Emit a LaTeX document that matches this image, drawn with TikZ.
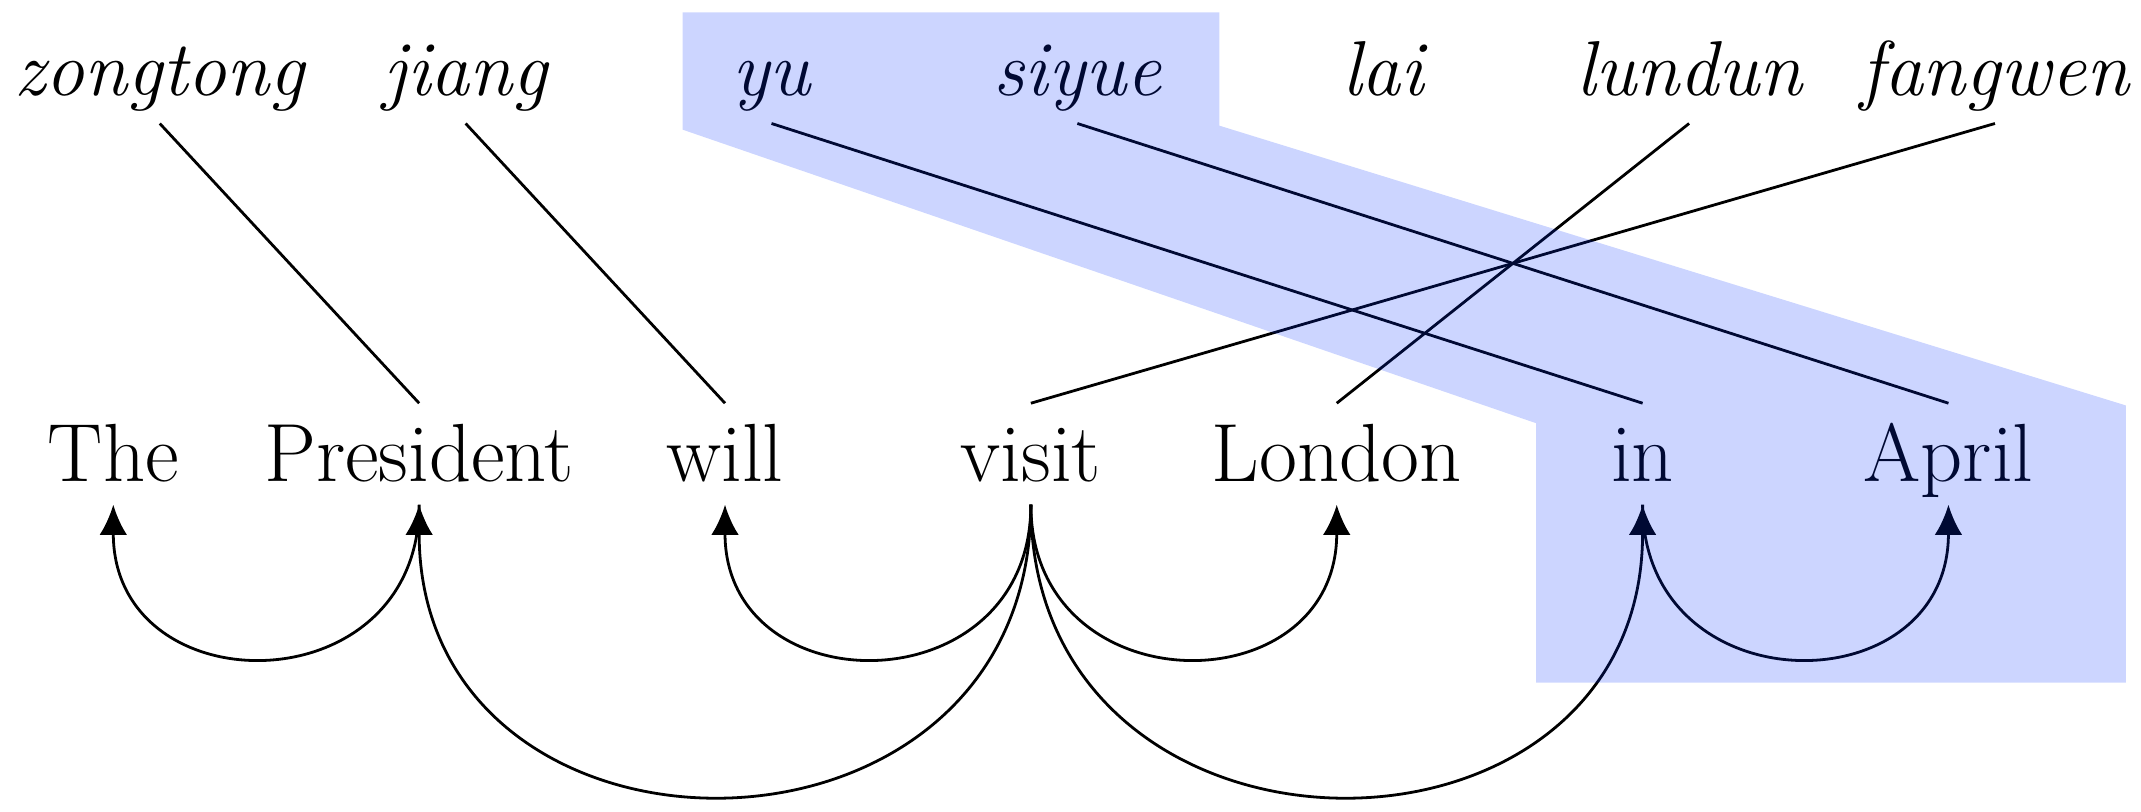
\documentclass[tikz,border=0pt]{standalone}
\usetikzlibrary{arrows.meta}
\definecolor{phrase}{RGB}{0,45,255}

\begin{document}
\begin{tikzpicture}[
    every node/.style={font=\fontsize{19.2}{23}\selectfont},
    src/.style={font=\fontsize{18.1}{22}\selectfont\itshape, anchor=base, text depth=4.3pt, inner sep=2pt},
    tgt/.style={anchor=base, text height=17.3pt, text depth=4.3pt, inner sep=0.8pt},
    link/.style={line width=0.65pt},
    dep/.style={line width=0.65pt, -{Latex[length=7pt, width=6.4pt]}, out=-90, in=-90}
]
\useasboundingbox (0,0) rectangle (17.5,6.629);

% Source words (pinyin)
\foreach \w [count=\i] in {zongtong, jiang, yu, siyue, lai, lundun, fangwen} {
    \node[src] (c\i) at (\i*2.5-1.194, 5.848) {\w};
}

% Target words
\foreach \w [count=\i] in {The, President, will, visit, London, in, April} {
    \node[tgt] (e\i) at (\i*2.5-1.574, 2.690) {\w};
}

% Word alignments (source/target)
\foreach \c/\e in {1/2, 2/3, 3/6, 4/7, 6/5, 7/4} {
    \draw[link] (c\c.south) -- (e\e.north);
}

% Dependency arcs
\draw[dep, looseness=1.7] (e2.south) to (e1.south);
\draw[dep, looseness=1.62] (e4.south) to (e2.south);
\draw[dep, looseness=1.7] (e4.south) to (e3.south);
\draw[dep, looseness=1.7] (e4.south) to (e5.south);
\draw[dep, looseness=1.62] (e4.south) to (e6.south);
\draw[dep, looseness=1.7] (e6.south) to (e7.south);

% Phrase highlight (yu siyue / in April)
\fill[phrase, opacity=0.2] (5.580,6.528) -- (9.966,6.528) -- (9.966,5.602)
    -- (17.376,3.315) -- (17.376,1.049) -- (12.555,1.049) -- (12.555,3.170)
    -- (5.580,5.569) -- cycle;

\end{tikzpicture}
\end{document}
